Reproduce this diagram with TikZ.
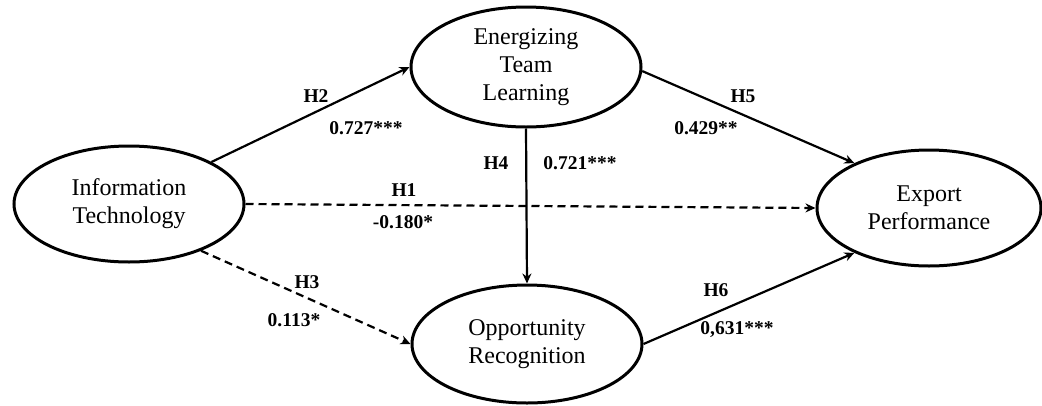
\documentclass[tikz,border=0pt]{standalone}
\usepackage{fontspec}
\setmainfont{Liberation Serif}
\usetikzlibrary{shapes.geometric,arrows.meta}
\begin{document}
\begin{tikzpicture}[x=1pt,y=-1pt,
  construct/.style={draw,ellipse,line width=3pt,minimum width=230pt,minimum height=116pt,align=center,font=\fontsize{24}{28}\selectfont,inner sep=0pt},
  path/.style={line width=2.2pt,-{Stealth[length=10pt,width=9pt]}},
  dpath/.style={path,dash pattern=on 8pt off 5pt},
  lab/.style={font=\bfseries\fontsize{19.5}{22}\selectfont,inner sep=0pt}]
\useasboundingbox (0,0) rectangle (1042,405);
\node[construct] (it) at (129,204) {Information\\Technology};
\node[construct,minimum height=120pt] (etl) at (526,67) {Energizing\\Team\\Learning};
\node[construct,minimum height=118pt] (or) at (527,344) {Opportunity\\Recognition};
\node[construct,minimum width=224pt] (ep) at (929,208) {Export\\Performance};
\draw[path] (it.27) -- (etl.west);
\draw[dpath] (it.east) -- (ep.west);
\draw[dpath] (it.-33) -- (or.west);
\draw[path] (etl.south) -- (or.north);
\draw[path] (etl.-2) -- (ep.149);
\draw[path] (or.east) -- (ep.-149);
\node[lab] (h2) at (316,96) {H2};
\node[lab] (v2) at (366,128) {0.727***};
\node[lab] (h5) at (743,96) {H5};
\node[lab] (v5) at (706,128) {0.429**};
\node[lab] (h4) at (496,163) {H4};
\node[lab] (v4) at (580,163) {0.721***};
\node[lab] (h1) at (404,190) {H1};
\node[lab] (v1) at (403,222) {-0.180*};
\node[lab] (h3) at (307,282) {H3};
\node[lab] (v3) at (294,320) {0.113*};
\node[lab] (h6) at (716,290) {H6};
\node[lab] (v6) at (737,330) {0,631***};
\end{tikzpicture}
\end{document}
